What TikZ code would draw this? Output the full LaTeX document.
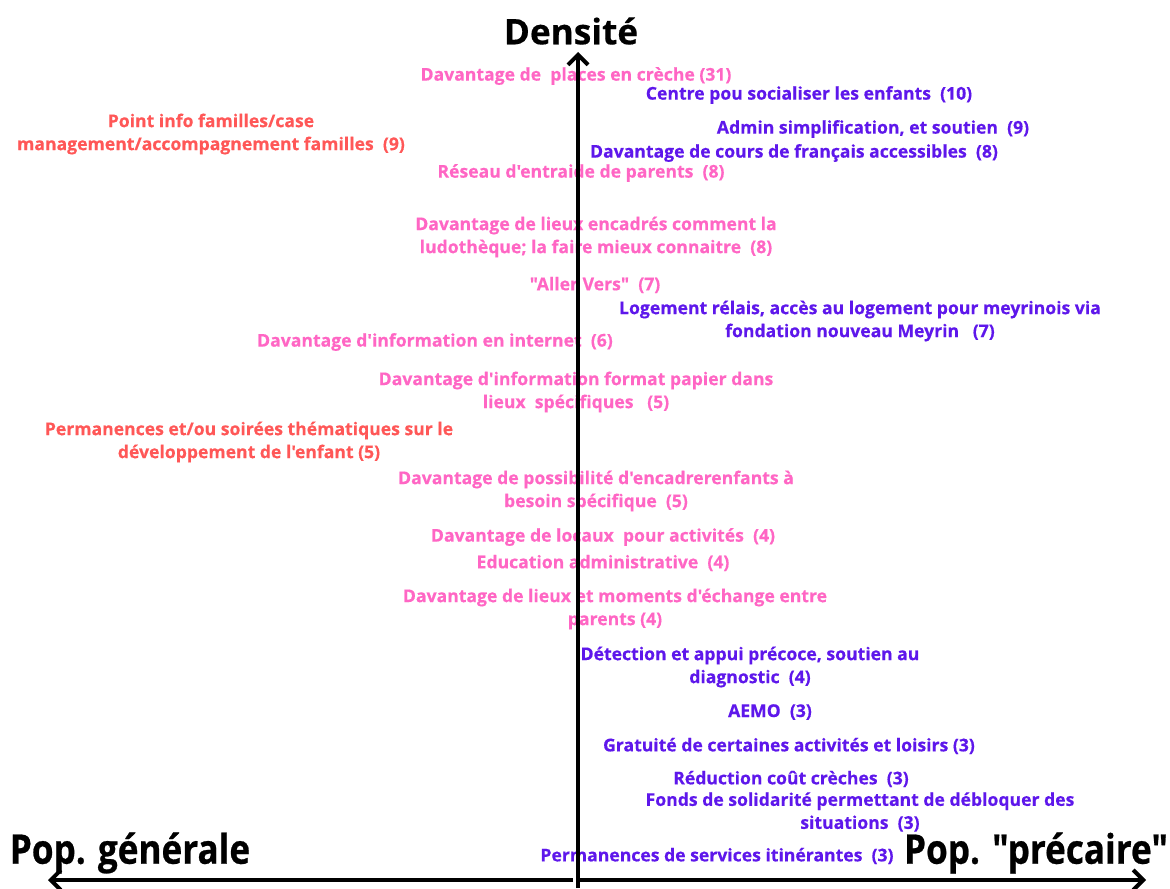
\documentclass[tikz,border=0pt]{standalone}
\usepackage{fontspec}
\setmainfont{Open Sans}[Ligatures=TeXOff, FakeBold=0.4]
\newfontfamily\headfont{Open Sans}[Ligatures=TeXOff, FakeStretch=0.86, FakeBold=0.6]
\usetikzlibrary{arrows.meta}
\definecolor{rose}{HTML}{FF66C4}
\definecolor{corail}{HTML}{FF5757}
\definecolor{indigo}{HTML}{5E17EB}

\begin{document}
\begin{tikzpicture}[x=0.5pt, y=-0.5pt, line join=round,
    lbl/.style={font=\bfseries\fontsize{8.8}{11.5}\selectfont, align=center, inner sep=0pt},
    gen/.style={lbl, text=rose},
    fam/.style={lbl, text=corail},
    prec/.style={lbl, text=indigo},
    head/.style={font=\headfont\bfseries\fontsize{20.4}{22}\selectfont, inner sep=0pt},
    axis/.style={line width=2pt, -{Straight Barb[length=5pt, width=10pt, line width=2pt]}}]
  \useasboundingbox (0,0) rectangle (1170,888);
  % axis titles
  \node[head, font=\bfseries\fontsize{17.6}{18}\selectfont] (dens) at (571,31) {Densité};
  \node[head] (popgen) at (130,853) {Pop. générale};
  \node[head] (popprec) at (1036,853) {Pop. "précaire"};
  % needs close to the general population
  \node[gen] (creche) at (576,76) {Davantage de\ \ places en crèche (31)};
  \node[gen] (reseau) at (581,173) {Réseau d'entraide de parents\ \ (8)};
  \node[gen] (ludo) at (596,237) {Davantage de lieux encadrés comment la\\ludothèque; la faire mieux connaitre\ \ (8)};
  \node[gen] (aller) at (595,285) {"Aller Vers"\ \ (7)};
  \node[gen] (internet) at (435,342) {Davantage d'information en internet\ \ (6)};
  \node[gen] (papier) at (576,392) {Davantage d'information format papier dans\\lieux\ \ spécifiques\ \ \ (5)};
  \node[gen] (besoin) at (596,491) {Davantage de possibilité d'encadrerenfants à\\besoin spécifique\ \ (5)};
  \node[gen] (locaux) at (603,537) {Davantage de locaux\ \ pour activités\ \ (4)};
  \node[gen] (educ) at (603,563) {Education administrative\ \ (4)};
  \node[gen] (echange) at (615,609) {Davantage de lieux et moments d'échange entre\\parents (4)};
  % family support
  \node[fam] (pointinfo) at (211,134) {Point info familles/case\\management/accompagnement familles\ \ (9)};
  \node[fam] (soirees) at (249,442) {Permanences et/ou soirées thématiques sur le\\développement de l'enfant (5)};
  % needs close to the precarious population
  \node[prec] (social) at (809,95) {Centre pou socialiser les enfants\ \ (10)};
  \node[prec] (admin) at (873,129) {Admin simplification, et soutien\ \ (9)};
  \node[prec] (francais) at (794,153) {Davantage de cours de français accessibles\ \ (8)};
  \node[prec] (logement) at (860,321) {Logement rélais, accès au logement pour meyrinois via\\fondation nouveau Meyrin\ \ \ (7)};
  \node[prec] (detection) at (750,667) {Détection et appui précoce, soutien au\\diagnostic\ \ (4)};
  \node[prec] (aemo) at (770,712) {AEMO\ \ (3)};
  \node[prec] (gratuite) at (789,746) {Gratuité de certaines activités et loisirs (3)};
  \node[prec] (reduc) at (791,779) {Réduction coût crèches\ \ (3)};
  \node[prec] (fonds) at (860,812) {Fonds de solidarité permettant de débloquer des\\situations\ \ (3)};
  \node[prec] (itin) at (717,856) {Permanences de services itinérantes\ \ (3)};
  % axes on top
  \coordinate (O) at (578,880);
  \coordinate (S) at (578,888);
  \coordinate (N) at (578,52);
  \coordinate (W) at (48,880);
  \coordinate (E) at (1146,880);
  \draw[axis] (S) -- (N);
  \draw[axis] ([xshift=-2.5pt]O) -- (W);
  \draw[axis] (O) -- (E);
\end{tikzpicture}
\end{document}
